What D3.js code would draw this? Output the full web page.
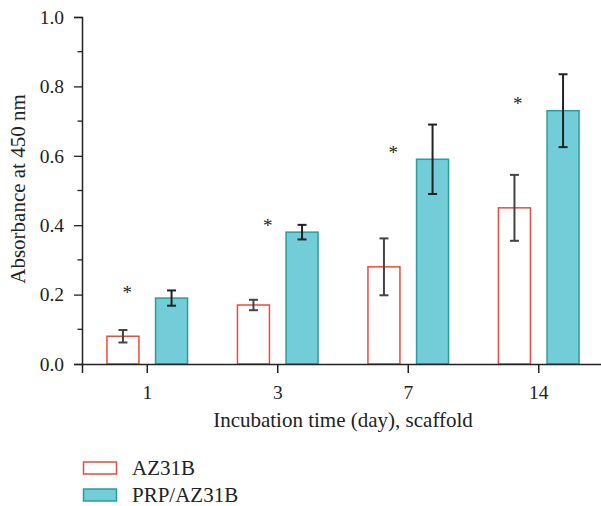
<!DOCTYPE html>
<html><head><meta charset="utf-8">
<script src="https://cdn.jsdelivr.net/npm/d3@7"></script>
<style>body{margin:0;background:#fff}svg{display:block}text{font-family:"Liberation Serif","Times New Roman",serif;fill:#222}</style>
</head><body><svg id="c" width="601" height="506"></svg>
<script>
const categories = ["1","3","7","14"];
const seriesNames = ["AZ31B","PRP/AZ31B"];
const az31b = [0.08, 0.17, 0.28, 0.45];
const az31bErr = [0.018, 0.015, 0.082, 0.095];
const prp = [0.19, 0.38, 0.59, 0.73];
const prpErr = [0.022, 0.021, 0.10, 0.105];
const sigY = [0.215, 0.41, 0.62, 0.76];
const yTicks = [0, 0.2, 0.4, 0.6, 0.8, 1.0];

const svg = d3.select("#c");
const x = d3.scaleBand().domain(categories).range([82, 604]).padding(0);
const y = d3.scaleLinear().domain([0, 1]).range([364, 17]);
const barW = 33, off = 24.3;

// y axis
const yAxis = d3.axisLeft(y).tickValues(yTicks).tickFormat(d3.format(".1f")).tickSizeOuter(0).tickSize(8).tickPadding(10);
const gy = svg.append("g").attr("transform","translate(82,0)").call(yAxis);
gy.attr("font-family",null).attr("font-size",null);
gy.selectAll(".tick line").attr("stroke","#222").attr("stroke-width",1.3);
gy.select(".domain").attr("stroke","#222").attr("stroke-width",1.5);
gy.selectAll("text").style("font-size","19.5px").attr("fill","#222");
const minor = d3.range(1,10,2).map(d=>d/10);
svg.append("g").selectAll("line").data(minor).join("line")
  .attr("x1",77.5).attr("x2",82).attr("y1",d=>y(d)).attr("y2",d=>y(d)).attr("stroke","#222").attr("stroke-width",1.3);

// bars
const g = svg.append("g");
g.selectAll(".az").data(az31b).join("rect")
  .attr("x",(d,i)=>x(categories[i])+x.bandwidth()/2-off-barW/2+0.5)
  .attr("y",d=>y(d)).attr("width",barW-1).attr("height",d=>y(0)-y(d))
  .attr("fill","#fff").attr("stroke","#ec4a3c").attr("stroke-width",1.5);
g.selectAll(".prp").data(prp).join("rect")
  .attr("x",(d,i)=>x(categories[i])+x.bandwidth()/2+off-barW/2+0.5)
  .attr("y",d=>y(d)).attr("width",barW-1).attr("height",d=>y(0)-y(d))
  .attr("fill","#72cdd9").attr("stroke","#2e9b9c").attr("stroke-width",1.5);

function errBars(vals, errs, dx, color){
  const eg = svg.append("g").attr("stroke",color).attr("stroke-width",2);
  vals.forEach((v,i)=>{
    const cx = x(categories[i])+x.bandwidth()/2+dx;
    eg.append("line").attr("x1",cx).attr("x2",cx).attr("y1",y(v+errs[i])).attr("y2",y(v-errs[i]));
    eg.append("line").attr("x1",cx-4.5).attr("x2",cx+4.5).attr("y1",y(v+errs[i])).attr("y2",y(v+errs[i]));
    eg.append("line").attr("x1",cx-4.5).attr("x2",cx+4.5).attr("y1",y(v-errs[i])).attr("y2",y(v-errs[i]));
  });
}
errBars(az31b, az31bErr, -off, "#444");
errBars(prp, prpErr, off, "#222");

// x axis
const xAxis = d3.axisBottom(x).tickSizeOuter(0).tickSize(9).tickPadding(12);
const gx = svg.append("g").attr("transform","translate(0,364)").call(xAxis);
gx.attr("font-family",null).attr("font-size",null);
gx.select(".domain").attr("stroke","#222").attr("stroke-width",1.5);
gx.selectAll(".tick line").attr("stroke","#222").attr("stroke-width",1.5);
gx.selectAll("text").style("font-size","19.5px").attr("fill","#222");

// significance stars
const starDx = [-20, -10, -15, -21];
svg.append("g").selectAll("text").data(sigY).join("text")
  .attr("x",(d,i)=>x(categories[i])+x.bandwidth()/2+starDx[i])
  .attr("y",d=>y(d)+10).attr("text-anchor","middle")
  .style("font-size","19px").text("*");

// axis titles
svg.append("text").attr("x",343).attr("y",427).attr("text-anchor","middle")
  .style("font-size","21px").text("Incubation time (day), scaffold");
svg.append("text").attr("transform","translate(25,189) rotate(-90)").attr("text-anchor","middle")
  .style("font-size","21px").text("Absorbance at 450 nm");

// legend
const leg = svg.append("g");
const legStyles = [{fill:"#fff",stroke:"#ec4a3c"},{fill:"#72cdd9",stroke:"#2e9b9c"}];
seriesNames.forEach((n,i)=>{
  leg.append("rect").attr("x",83.5).attr("y",462+i*27).attr("width",33).attr("height",12)
    .attr("fill",legStyles[i].fill).attr("stroke",legStyles[i].stroke).attr("stroke-width",1.5);
  leg.append("text").attr("x",132).attr("y",475+i*27).style("font-size","21px").text(n);
});
</script></body></html>
